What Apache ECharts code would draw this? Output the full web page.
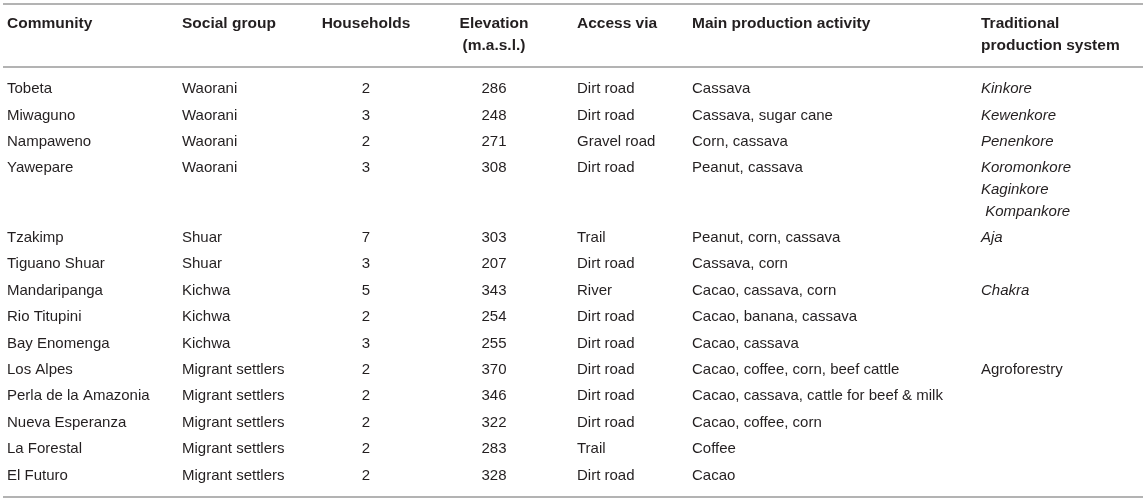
<!DOCTYPE html>
<html>
<head>
<meta charset="utf-8">
<script src="https://cdn.jsdelivr.net/npm/echarts@6/dist/echarts.min.js"></script>
<style>
html,body{margin:0;padding:0;background:#fff;}
#chart{width:1146px;height:501px;}
</style>
</head>
<body>
<div id="chart"></div>
<script>
// ---------------- DATA ----------------
const columnHeaders = [
  ["Community"],
  ["Social group"],
  ["Households"],
  ["Elevation", "(m.a.s.l.)"],
  ["Access via"],
  ["Main production activity"],
  ["Traditional", "production system"]
];
const communities = ["Tobeta","Miwaguno","Nampaweno","Yawepare","Tzakimp","Tiguano Shuar","Mandaripanga","Rio Titupini","Bay Enomenga","Los Alpes","Perla de la Amazonia","Nueva Esperanza","La Forestal","El Futuro"];
const socialGroups = ["Waorani","Waorani","Waorani","Waorani","Shuar","Shuar","Kichwa","Kichwa","Kichwa","Migrant settlers","Migrant settlers","Migrant settlers","Migrant settlers","Migrant settlers"];
const households = [2,3,2,3,7,3,5,2,3,2,2,2,2,2];
const elevations = [286,248,271,308,303,207,343,254,255,370,346,322,283,328];
const accessVia = ["Dirt road","Dirt road","Gravel road","Dirt road","Trail","Dirt road","River","Dirt road","Dirt road","Dirt road","Dirt road","Dirt road","Trail","Dirt road"];
const mainActivity = ["Cassava","Cassava, sugar cane","Corn, cassava","Peanut, cassava","Peanut, corn, cassava","Cassava, corn","Cacao, cassava, corn","Cacao, banana, cassava","Cacao, cassava","Cacao, coffee, corn, beef cattle","Cacao, cassava, cattle for beef & milk","Cacao, coffee, corn","Coffee","Cacao"];
const traditionalSystem = [["Kinkore"],["Kewenkore"],["Penenkore"],["Koromonkore","Kaginkore"," Kompankore"],["Aja"],[],["Chakra"],[],[],["Agroforestry"],[],[],[],[]];
const traditionalItalic = [true,true,true,true,true,false,true,false,false,false,false,false,false,false];

// ---------------- LAYOUT (styles/positions) ----------------
const W = 1146, H = 501;
const colX = [7, 182, 366, 494, 577, 692, 981];
const colAlign = ['left','left','center','center','left','left','left'];
const headerLineY = [24, 46];
const firstRowY = 89, rowStep = 26.4, extraLineStep = 21.6;
const ruleY = [4, 67, 497];
const ruleX = [3, 1143];
const FONT = "'Liberation Sans', Arial, Helvetica, sans-serif";
const TEXT_COLOR = '#231f20';

// build cells
const cells = [];
columnHeaders.forEach((lines, c) => {
  lines.forEach((t, li) => {
    cells.push({ value: [colX[c], headerLineY[li]], text: t, align: colAlign[c], bold: true, italic: false });
  });
});
let extra = 0;
communities.forEach((name, r) => {
  const y = firstRowY + rowStep * r + extraLineStep * extra;
  const rowVals = [name, socialGroups[r], String(households[r]), String(elevations[r]), accessVia[r], mainActivity[r]];
  rowVals.forEach((t, c) => {
    cells.push({ value: [colX[c], y], text: t, align: colAlign[c], bold: false, italic: false });
  });
  traditionalSystem[r].forEach((t, li) => {
    cells.push({ value: [colX[6], y + extraLineStep * li], text: t, align: colAlign[6], bold: false, italic: traditionalItalic[r] });
  });
  extra += Math.max(0, traditionalSystem[r].length - 1);
});

const chart = echarts.init(document.getElementById('chart'), null, { renderer: 'canvas' });
chart.setOption({
  backgroundColor: '#fff',
  animation: false,
  grid: { left: 0, right: 0, top: 0, bottom: 0 },
  xAxis: { type: 'value', min: 0, max: W, show: false },
  yAxis: { type: 'value', min: 0, max: H, inverse: true, show: false },
  series: [
    {
      type: 'custom',
      name: 'rules',
      data: ruleY.map(y => [y]),
      renderItem: function (params, api) {
        const y = api.value(0);
        const p1 = api.coord([ruleX[0], y]);
        const p2 = api.coord([ruleX[1], y]);
        return { type: 'line', shape: { x1: p1[0], y1: p1[1], x2: p2[0], y2: p2[1] },
                 style: { stroke: '#b3b3b3', lineWidth: 2 } };
      }
    },
    {
      type: 'custom',
      name: 'cells',
      data: cells,
      renderItem: function (params, api) {
        const cell = cells[params.dataIndex];
        const p = api.coord([api.value(0), api.value(1)]);
        return {
          type: 'text',
          x: p[0], y: p[1],
          style: {
            text: cell.text,
            textAlign: cell.align,
            textVerticalAlign: 'middle',
            fill: TEXT_COLOR,
            font: (cell.italic ? 'italic ' : '') + (cell.bold ? 'bold 15.5px ' : '15px ') + FONT
          }
        };
      }
    }
  ]
});
</script>
</body>
</html>
